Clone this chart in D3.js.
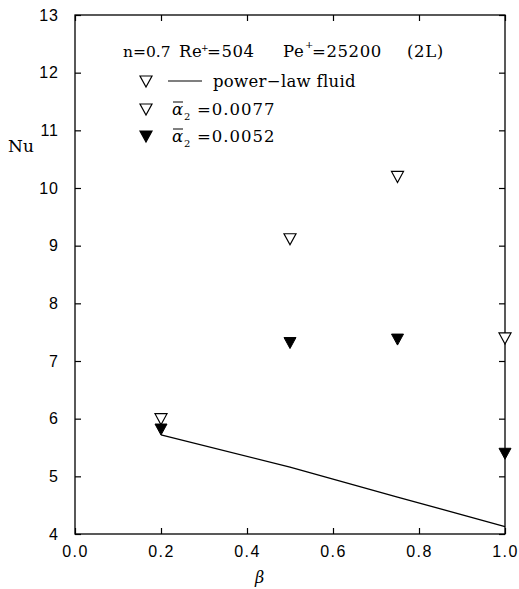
<!DOCTYPE html>
<html>
<head>
<meta charset="utf-8">
<script src="https://cdn.jsdelivr.net/npm/d3@7"></script>
<style>
  body { margin: 0; background: #fff; }
  text { fill: #000; }
</style>
</head>
<body>
<div id="chart"></div>
<script>
// Data.
var betaLine = [0.2, 0.5, 0.75, 1.0];
var nuPowerLaw = [5.72, 5.16, 4.64, 4.13];
var betaPts = [0.2, 0.5, 0.75, 1.0];
var nuAlpha0077 = [6.0, 9.12, 10.2, 7.4];
var nuAlpha0052 = [5.82, 7.32, 7.38, 5.4];
var xTicks = [0.0, 0.2, 0.4, 0.6, 0.8, 1.0];
var yTicks = [4, 5, 6, 7, 8, 9, 10, 11, 12, 13];

var W = 519, H = 589;
var margin = { top: 15, right: 14, bottom: 55, left: 75 };
var width = W - margin.left - margin.right;
var height = H - margin.top - margin.bottom;

var x = d3.scaleLinear().domain([0, 1]).range([0, width]);
var y = d3.scaleLinear().domain([4, 13]).range([height, 0]);

var svg = d3.select('#chart').append('svg')
    .attr('width', W).attr('height', H);
var g = svg.append('g')
    .attr('transform', 'translate(' + margin.left + ',' + margin.top + ')');

// frame
g.append('rect')
    .attr('width', width).attr('height', height)
    .attr('fill', 'none').attr('stroke', '#000').attr('stroke-width', 1.3);

var sans = 'Liberation Sans, Arial, sans-serif';
var serif = 'DejaVu Serif, serif';

// axes with inward ticks
var axBottom = g.append('g').attr('transform', 'translate(0,' + height + ')')
    .call(d3.axisBottom(x).tickValues(xTicks).tickFormat(d3.format('.1f'))
        .tickSizeInner(-6).tickSizeOuter(0).tickPadding(12));
var axTop = g.append('g')
    .call(d3.axisTop(x).tickValues(xTicks).tickFormat('').tickSizeInner(-6).tickSizeOuter(0));
var axLeft = g.append('g')
    .call(d3.axisLeft(y).tickValues(yTicks).tickFormat(d3.format('d'))
        .tickSizeInner(-6).tickSizeOuter(0).tickPadding(16));
var axRight = g.append('g').attr('transform', 'translate(' + width + ',0)')
    .call(d3.axisRight(y).tickValues(yTicks).tickFormat('').tickSizeInner(-6).tickSizeOuter(0));

[axBottom, axTop, axLeft, axRight].forEach(function(a) {
    a.attr('font-size', 16).attr('font-family', sans);
    a.select('.domain').remove();
    a.selectAll('line').attr('stroke', '#000').attr('stroke-width', 1.2);
    a.selectAll('text').style('font-size', '16px').style('font-family', sans).attr('fill', '#000');
});
axBottom.selectAll('text').attr('letter-spacing', 1.5);
axLeft.selectAll('text').attr('letter-spacing', 1);

var txt = function(xx, yy, s, size) {
    return svg.append('text').attr('x', xx).attr('y', yy)
        .attr('font-family', serif).attr('font-size', size || 16).text(s);
};

// axis labels
txt(8, 152, 'Nu', 17);
txt(255, 583, 'β', 16).attr('font-style', 'italic');

// power-law line
var line = d3.line().x(function(d) { return x(d[0]); }).y(function(d) { return y(d[1]); });
g.append('path')
    .datum(d3.zip(betaLine, nuPowerLaw))
    .attr('d', line).attr('fill', 'none').attr('stroke', '#000').attr('stroke-width', 1.3);

// triangle markers
var tri = function(cx, cy) {
    return 'M' + (cx - 6) + ',' + (cy - 5) + 'L' + (cx + 6) + ',' + (cy - 5) + 'L' + cx + ',' + (cy + 6) + 'Z';
};
g.selectAll('.open').data(d3.zip(betaPts, nuAlpha0077)).enter().append('path')
    .attr('d', function(d) { return tri(x(d[0]), y(d[1])); })
    .attr('fill', '#fff').attr('stroke', '#000').attr('stroke-width', 1.2);
g.selectAll('.filled').data(d3.zip(betaPts, nuAlpha0052)).enter().append('path')
    .attr('d', function(d) { return tri(x(d[0]), y(d[1])); })
    .attr('fill', '#000').attr('stroke', '#000').attr('stroke-width', 1);

// header text
var hy = 57;
txt(123, hy, 'n=0.7', 15.5);
txt(179, hy, 'Re', 16.5).attr('letter-spacing', 0.6);
txt(201, hy - 6, '+', 9);
txt(207, hy, '=504', 16.5).attr('letter-spacing', 0.6);
txt(283, hy, 'Pe', 16.5).attr('letter-spacing', 0.6);
txt(305, hy - 9, '+', 10);
txt(312, hy, '=25200', 16.5).attr('letter-spacing', 0.6);
txt(407, hy, '(2L)', 16.5).attr('letter-spacing', 0.6);

// legend
var lx = 146;
var rows = [87, 115, 142];
svg.append('path').attr('d', tri(lx, rows[0] - 6)).attr('fill', '#fff').attr('stroke', '#000').attr('stroke-width', 1.2);
svg.append('line').attr('x1', 168).attr('x2', 202).attr('y1', rows[0] - 6).attr('y2', rows[0] - 6)
    .attr('stroke', '#000').attr('stroke-width', 1.2);
txt(213, rows[0], 'power\u2212law fluid', 16.5).attr('letter-spacing', 0.3);

var alphaLabels = ['=0.0077', '=0.0052'];
[0, 1].forEach(function(i) {
    var yy = rows[i + 1];
    svg.append('path').attr('d', tri(lx, yy - 6))
        .attr('fill', i === 0 ? '#fff' : '#000').attr('stroke', '#000').attr('stroke-width', 1.2);
    txt(172, yy, 'α', 16.5).attr('font-style', 'italic');
    txt(184, yy + 5, '2', 10);
    txt(197, yy, alphaLabels[i], 16.5).attr('letter-spacing', 1);
    svg.append('line').attr('x1', 173).attr('x2', 183).attr('y1', yy - 13).attr('y2', yy - 13)
        .attr('stroke', '#000').attr('stroke-width', 1);
});
</script>
</body>
</html>
